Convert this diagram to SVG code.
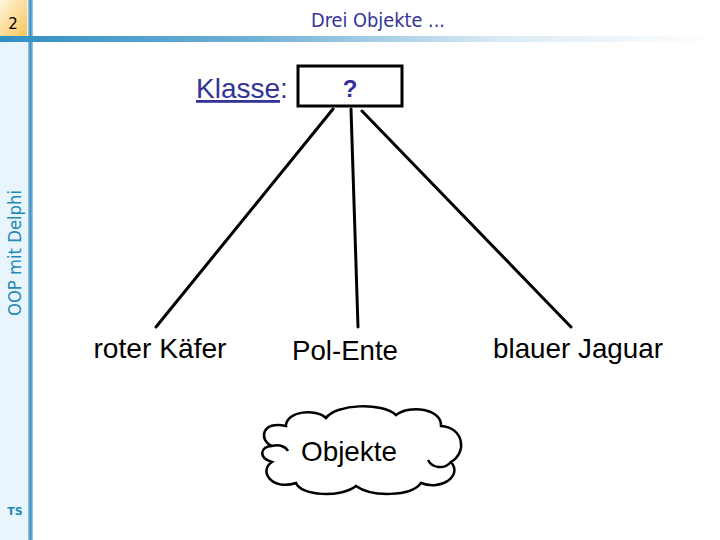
<svg xmlns="http://www.w3.org/2000/svg" width="720" height="540" viewBox="0 0 720 540">
<defs>
<linearGradient id="hbar" x1="0" y1="0" x2="1" y2="0">
<stop offset="0" stop-color="#2f8fc2"/>
<stop offset="0.35" stop-color="#6fb0d6"/>
<stop offset="0.7" stop-color="#dcebf5"/>
<stop offset="1" stop-color="#ffffff"/>
</linearGradient>
<linearGradient id="vbar" x1="0" y1="0" x2="1" y2="0">
<stop offset="0" stop-color="#9ccbe6"/>
<stop offset="0.5" stop-color="#3d8fc0"/>
<stop offset="1" stop-color="#a9d2ea"/>
</linearGradient>
<linearGradient id="num" x1="0" y1="0" x2="1" y2="1">
<stop offset="0" stop-color="#fff6dc"/>
<stop offset="1" stop-color="#f8c45a"/>
</linearGradient>
<style>
.t{font-family:"Liberation Sans",Arial,sans-serif;font-size:28px;fill:#000}
.ln{stroke:#000;stroke-width:3;fill:none;stroke-linecap:round}
</style>
</defs>
<rect width="720" height="540" fill="#fff"/>
<g id="frame">
<rect x="0" y="0" width="29" height="540" fill="#e8f5fc"/>
<rect x="0" y="0" width="27" height="36" fill="url(#num)"/>
<rect x="28" y="0" width="5" height="540" fill="url(#vbar)"/>
<rect x="0" y="36" width="720" height="6" fill="url(#hbar)"/>
<text x="13" y="29" font-family="DejaVu Sans,sans-serif" font-size="15" text-anchor="middle" fill="#000">2</text>
<text x="378" y="27" font-family="DejaVu Sans,sans-serif" font-size="19" text-anchor="middle" fill="#333399" textLength="134" lengthAdjust="spacingAndGlyphs">Drei Objekte ...</text>
<text transform="translate(21,253) rotate(-90)" font-family="DejaVu Sans,sans-serif" font-size="17" text-anchor="middle" fill="#1f8ab8" textLength="126" lengthAdjust="spacingAndGlyphs">OOP mit Delphi</text>
<text x="15" y="515" font-family="DejaVu Sans,sans-serif" font-size="11" font-weight="bold" text-anchor="middle" fill="#1f8ab8">TS</text>
</g>
<g id="connectors">
<line class="ln" x1="333" y1="109" x2="156" y2="327"/>
<line class="ln" x1="351" y1="109" x2="358" y2="327"/>
<line class="ln" x1="362" y1="111" x2="571" y2="327"/>
</g>
<g id="klasse">
<text class="t" x="196" y="98" style="fill:#333399"><tspan text-decoration="underline">Klasse</tspan>:</text>
<rect x="298" y="66" width="104" height="40" fill="#fff" stroke="#000" stroke-width="3"/>
<text x="350" y="97" font-family="Liberation Sans,Arial,sans-serif" font-size="24" font-weight="bold" text-anchor="middle" fill="#333399">?</text>
</g>
<g id="kaefer"><text class="t" x="160" y="358" text-anchor="middle" textLength="133" lengthAdjust="spacingAndGlyphs">roter Käfer</text></g>
<g id="ente"><text class="t" x="345" y="360" text-anchor="middle" textLength="106" lengthAdjust="spacingAndGlyphs">Pol-Ente</text></g>
<g id="jaguar"><text class="t" x="578" y="358" text-anchor="middle" textLength="170" lengthAdjust="spacingAndGlyphs">blauer Jaguar</text></g>
<g id="objekte">
<path d="M272,446 C258,440 262,420 286,426 C286,411 316,408 326,418 C336,404 382,402 396,415 C410,404 442,409 441,426 C463,427 468,452 451,462 C463,476 441,491 421,483 C411,497 371,497 356,486 C341,498 301,496 296,483 C272,491 258,471 272,462 C258,458 260,446 272,446 Z" fill="#fff" stroke="#000" stroke-width="2.5"/>
<path d="M272,446 C280,444 286,447 288,451" fill="none" stroke="#000" stroke-width="2.5"/>
<path d="M451,462 C444,470 432,468 428,460" fill="none" stroke="#000" stroke-width="2.5"/>
<text class="t" x="349" y="461" text-anchor="middle" textLength="96" lengthAdjust="spacingAndGlyphs">Objekte</text>
</g>
</svg>
